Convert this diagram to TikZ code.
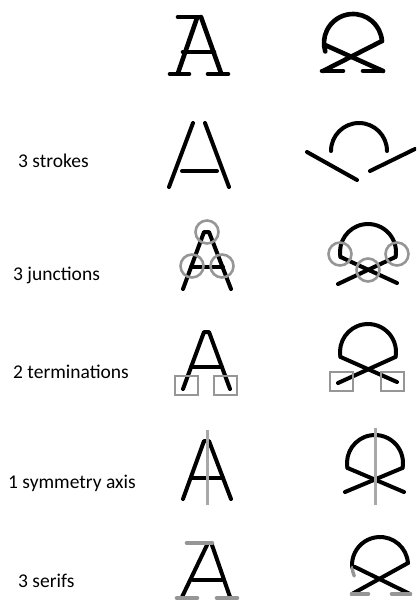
\documentclass[tikz,border=0pt]{standalone}
\usepackage{fontspec}
\setmainfont{Carlito}
\definecolor{mk}{RGB}{150,150,150}
\definecolor{ax}{RGB}{168,168,168}
\begin{document}
\begin{tikzpicture}[x=1pt,y=-1pt,line cap=round,line join=round,
  glyph/.style={line width=4pt,draw=black},
  boldglyph/.style={line width=4.6pt,draw=black},
  marker/.style={line width=2.6pt,draw=mk},
  axisline/.style={line width=3pt,draw=ax,line cap=butt},
  serifmark/.style={line width=4.6pt,draw=mk},
  lbl/.style={anchor=base west,inner sep=0pt,font=\fontsize{19.5}{23}\selectfont}]
\useasboundingbox (0,0) rectangle (416,600);
\clip (0,0) rectangle (416,600);

% ---------- Row 1: original glyphs ----------
\draw[boldglyph] (178,17) -- (200,17);
\draw[boldglyph] (197,18) -- (178,73);
\draw[boldglyph] (201,17) -- (221,73);
\draw[boldglyph] (183,52) -- (214,52);
\draw[boldglyph] (170,74) -- (189,74);
\draw[boldglyph] (208,74) -- (228,74);
\draw[boldglyph] (353,43) ++(356:29) arc[start angle=356,end angle=163,radius=29];
\draw[boldglyph] (325,45) -- (383,71);
\draw[boldglyph] (382,41) -- (323,71);
\draw[boldglyph] (322,71) -- (343,71);
\draw[boldglyph] (363,71) -- (383,71);

% ---------- Row 2: strokes ----------
\node[lbl] (l1) at (18,167) {3 strokes};
\draw[glyph] (193,123) -- (169,187);
\draw[glyph] (205,123) -- (229,187);
\draw[glyph] (182,171) -- (217,171);
\draw[glyph] (331,151) arc[start angle=180,end angle=360,radius=28];
\draw[glyph] (307,152) -- (357,180);
\draw[glyph] (370,171) -- (415,149);

% ---------- Row 3: junctions ----------
\node[lbl] (l2) at (13,280) {3 junctions};
\draw[glyph] (183,289) -- (204,232) -- (209,232) -- (231,289);
\draw[glyph] (191,267) -- (223,267);
\draw[marker] (207,232) circle[radius=11.5];
\draw[marker] (192,266) circle[radius=11.5];
\draw[marker] (222,266) circle[radius=11.5];
\draw[glyph] (368,252) ++(170:28) arc[start angle=170,end angle=370,radius=28];
\draw[glyph] (340.4,256.9) -- (397,283);
\draw[glyph] (395.6,256.9) -- (338,284);
\draw[marker] (340,254) circle[radius=11.5];
\draw[marker] (397,254) circle[radius=11.5];
\draw[marker] (368,270) circle[radius=11.5];

% ---------- Row 4: terminations ----------
\node[lbl] (l3) at (13,378) {2 terminations};
\draw[glyph] (183,389) -- (204,332) -- (209,332) -- (230,389);
\draw[glyph] (191,367) -- (222,367);
\draw[marker,line join=miter] (175,376) rectangle (198,395);
\draw[marker,line join=miter] (214,376) rectangle (237,395);
\draw[glyph] (368,352) ++(170:28) arc[start angle=170,end angle=370,radius=28];
\draw[glyph] (340.4,356.9) -- (397,382);
\draw[glyph] (395.6,356.9) -- (338,383);
\draw[marker,line join=miter] (330,372) rectangle (353,391);
\draw[marker,line join=miter] (381,372) rectangle (404,391);

% ---------- Row 5: symmetry axis ----------
\node[lbl] (l4) at (8,488) {1 symmetry axis};
\draw[glyph] (183,499) -- (204,441) -- (209,441) -- (231,499);
\draw[glyph] (191,478) -- (223,478);
\draw[axisline] (207,430) -- (207,505);
\draw[glyph] (375,463) ++(170:28) arc[start angle=170,end angle=370,radius=28];
\draw[glyph] (347.4,467.9) -- (404,492);
\draw[glyph] (402.6,467.9) -- (345,492);
\draw[axisline] (375,428) -- (375,505);

% ---------- Row 6: serifs ----------
\node[lbl] (l5) at (18,587) {3 serifs};
\draw[glyph] (207,545) -- (182,597);
\draw[glyph] (212,545) -- (230,597);
\draw[glyph] (193,580) -- (222,580);
\draw[serifmark] (187,543) -- (212,543);
\draw[serifmark] (177,598) -- (197,598);
\draw[serifmark] (217,598) -- (237,598);
\draw[glyph] (380,565) ++(356:28) arc[start angle=356,end angle=175,radius=28];
\draw[serifmark,line width=3.4pt] (380,565) ++(175:28) arc[start angle=175,end angle=157,radius=28];
\draw[glyph] (355,567) -- (410,594);
\draw[glyph] (408,563) -- (352,594);
\draw[serifmark] (352,594) -- (368,594);
\draw[serifmark] (392,594) -- (410,594);
\end{tikzpicture}
\end{document}
